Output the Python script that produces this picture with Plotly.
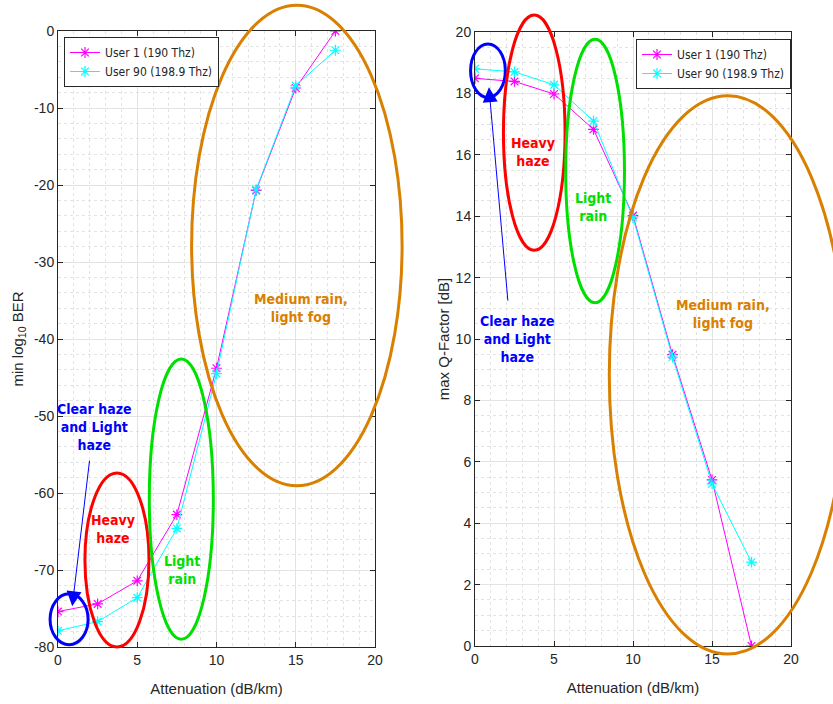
import plotly.graph_objects as go

# ---------------- data ----------------
atten = [0, 2.5, 5, 7.5, 10, 12.5, 15, 17.5]
ber_user1 = [-75.4, -74.4, -71.4, -62.8, -43.8, -20.7, -7.4, 0.0]
ber_user90 = [-77.9, -76.7, -73.6, -64.6, -44.5, -20.6, -7.1, -2.5]
q_user1 = [18.49, 18.39, 17.98, 16.83, 14.02, 9.49, 5.41, 0.0]
q_user90 = [18.80, 18.70, 18.28, 17.10, 13.95, 9.41, 5.28, 2.73]
series_names = ["User 1 (190 Thz)", "User 90 (198.9 Thz)"]
series_colors = ["#FF00FF", "#00FFFF"]

x_ticks = [0, 5, 10, 15, 20]
ber_ticks = [-80, -70, -60, -50, -40, -30, -20, -10, 0]
ber_ticktext = ["-80", "-70", "-60", "-50", "-40", "-30", "-20", "-10", "0"]
q_ticks = [0, 2, 4, 6, 8, 10, 12, 14, 16, 18, 20]

region_labels = ["Clear haze<br>and Light<br>haze", "Heavy<br>haze", "Light<br>rain", "Medium rain,<br>light fog"]
region_colors = ["#0000FF", "#FF0000", "#00E000", "#D98000"]

# ellipses (center x, center y, radius x, radius y) in data units
left_ell = [(0.7, -76.4, 1.2, 3.3), (3.72, -68.7, 2.02, 11.3), (7.78, -60.8, 2.02, 18.2), (15.07, -27.85, 6.64, 31.2)]
right_ell = [(0.82, 18.74, 1.1, 0.87), (3.75, 16.72, 1.95, 3.83), (7.6, 15.47, 1.86, 4.29), (16.0, 8.83, 7.5, 9.09)]
left_lbl = [(2.3, -51.4), (3.5, -64.7), (7.8, -70.0), (15.3, -36.0)]
right_lbl = [(2.7, 10.0), (3.67, 16.1), (7.47, 14.3), (15.7, 10.8)]

XR = [0, 20]
YR_L = [-80, 0]
YR_R = [0, 20]

fig = go.Figure()

for i, (ys, name) in enumerate(zip([ber_user1, ber_user90], series_names)):
    fig.add_trace(go.Scatter(x=atten, y=ys, name=name, mode="lines+markers",
                             line=dict(color=series_colors[i], width=1),
                             marker=dict(symbol="asterisk-open", size=9,
                                         line=dict(color=series_colors[i], width=1.2)),
                             xaxis="x", yaxis="y", legend="legend"))
for i, (ys, name) in enumerate(zip([q_user1, q_user90], series_names)):
    fig.add_trace(go.Scatter(x=atten, y=ys, name=name, mode="lines+markers",
                             line=dict(color=series_colors[i], width=1),
                             marker=dict(symbol="asterisk-open", size=9,
                                         line=dict(color=series_colors[i], width=1.2)),
                             xaxis="x2", yaxis="y2", legend="legend2"))


def dom(v, r):
    return (v - r[0]) / (r[1] - r[0])


shapes = []
for ells, yr, xa, ya in [(left_ell, YR_L, "x", "y"), (right_ell, YR_R, "x2", "y2")]:
    for (cx, cy, rx, ry), col in zip(ells, region_colors):
        shapes.append(dict(type="circle", xref=xa + " domain", yref=ya + " domain",
                           x0=dom(cx - rx, XR), x1=dom(cx + rx, XR),
                           y0=dom(cy - ry, yr), y1=dom(cy + ry, yr),
                           line=dict(color=col, width=3), layer="above"))

annotations = []
tfont = "DejaVu Sans Condensed, Liberation Sans, Arial"
for lbls, xa, ya in [(left_lbl, "x", "y"), (right_lbl, "x2", "y2")]:
    for (tx, ty), txt, col in zip(lbls, region_labels, region_colors):
        annotations.append(dict(x=tx, y=ty, xref=xa, yref=ya, text="<b>" + txt + "</b>",
                                showarrow=False, font=dict(family=tfont, size=14, color=col),
                                align="center"))
# arrows
annotations.append(dict(x=0.9, y=-74.7, ax=2.0, ay=-55.6, xref="x", yref="y", axref="x", ayref="y",
                        text="", showarrow=True, arrowhead=2, arrowsize=3, arrowwidth=1,
                        arrowcolor="#0000FF"))
annotations.append(dict(x=0.88, y=18.2, ax=2.09, ay=11.2, xref="x2", yref="y2", axref="x2", ayref="y2",
                        text="", showarrow=True, arrowhead=2, arrowsize=3, arrowwidth=1,
                        arrowcolor="#0000FF"))

axfont = dict(family="Liberation Sans, Arial", size=14, color="#262626")
common = dict(showline=True, linecolor="#262626", linewidth=1, mirror="ticks", ticks="inside",
              ticklen=5, tickcolor="#262626", showgrid=True, gridcolor="#E3E3E3", gridwidth=1,
              zeroline=False, tickfont=axfont, automargin=False)
tfont_ax = dict(family="Liberation Sans, Arial", size=15, color="#262626")

fig.update_layout(
    width=833, height=704,
    margin=dict(l=0, r=0, t=0, b=0),
    paper_bgcolor="white", plot_bgcolor="white",
    showlegend=True,
    xaxis=dict(domain=[58 / 833, 375 / 833], range=XR, tickvals=x_ticks, anchor="y",
               title=dict(text="Attenuation (dB/km)", standoff=16, font=tfont_ax),
               minor=dict(dtick=1, showgrid=True, gridcolor="#E3E3E3", griddash="dot"), **common),
    yaxis=dict(domain=[57 / 704, 673 / 704], range=YR_L, tickvals=ber_ticks, ticktext=ber_ticktext,
               anchor="x",
               title=dict(text="min log<sub>10</sub> BER", standoff=6, font=tfont_ax),
               minor=dict(dtick=2, showgrid=True, gridcolor="#E3E3E3", griddash="dot"), **common),
    xaxis2=dict(domain=[475 / 833, 791 / 833], range=XR, tickvals=x_ticks, anchor="y2",
                title=dict(text="Attenuation (dB/km)", standoff=16, font=tfont_ax),
                minor=dict(dtick=1, showgrid=True, gridcolor="#E3E3E3", griddash="dot"), **common),
    yaxis2=dict(domain=[58 / 704, 672 / 704], range=YR_R, tickvals=q_ticks, anchor="x2",
                title=dict(text="max Q-Factor [dB]", standoff=2, font=tfont_ax),
                minor=dict(dtick=0.5, showgrid=True, gridcolor="#E3E3E3", griddash="dot"), **common),
    legend=dict(x=64 / 833, y=667 / 704, xanchor="left", yanchor="top", bgcolor="white",
                bordercolor="#262626", borderwidth=1,
                font=dict(family="DejaVu Sans Condensed, Liberation Sans", size=12, color="#262626"),
                tracegroupgap=0, itemwidth=30),
    legend2=dict(x=636 / 833, y=665 / 704, xanchor="left", yanchor="top", bgcolor="white",
                 bordercolor="#262626", borderwidth=1,
                 font=dict(family="DejaVu Sans Condensed, Liberation Sans", size=12, color="#262626"),
                 tracegroupgap=0, itemwidth=30),
    shapes=shapes, annotations=annotations,
)

fig.write_html("out.html")
